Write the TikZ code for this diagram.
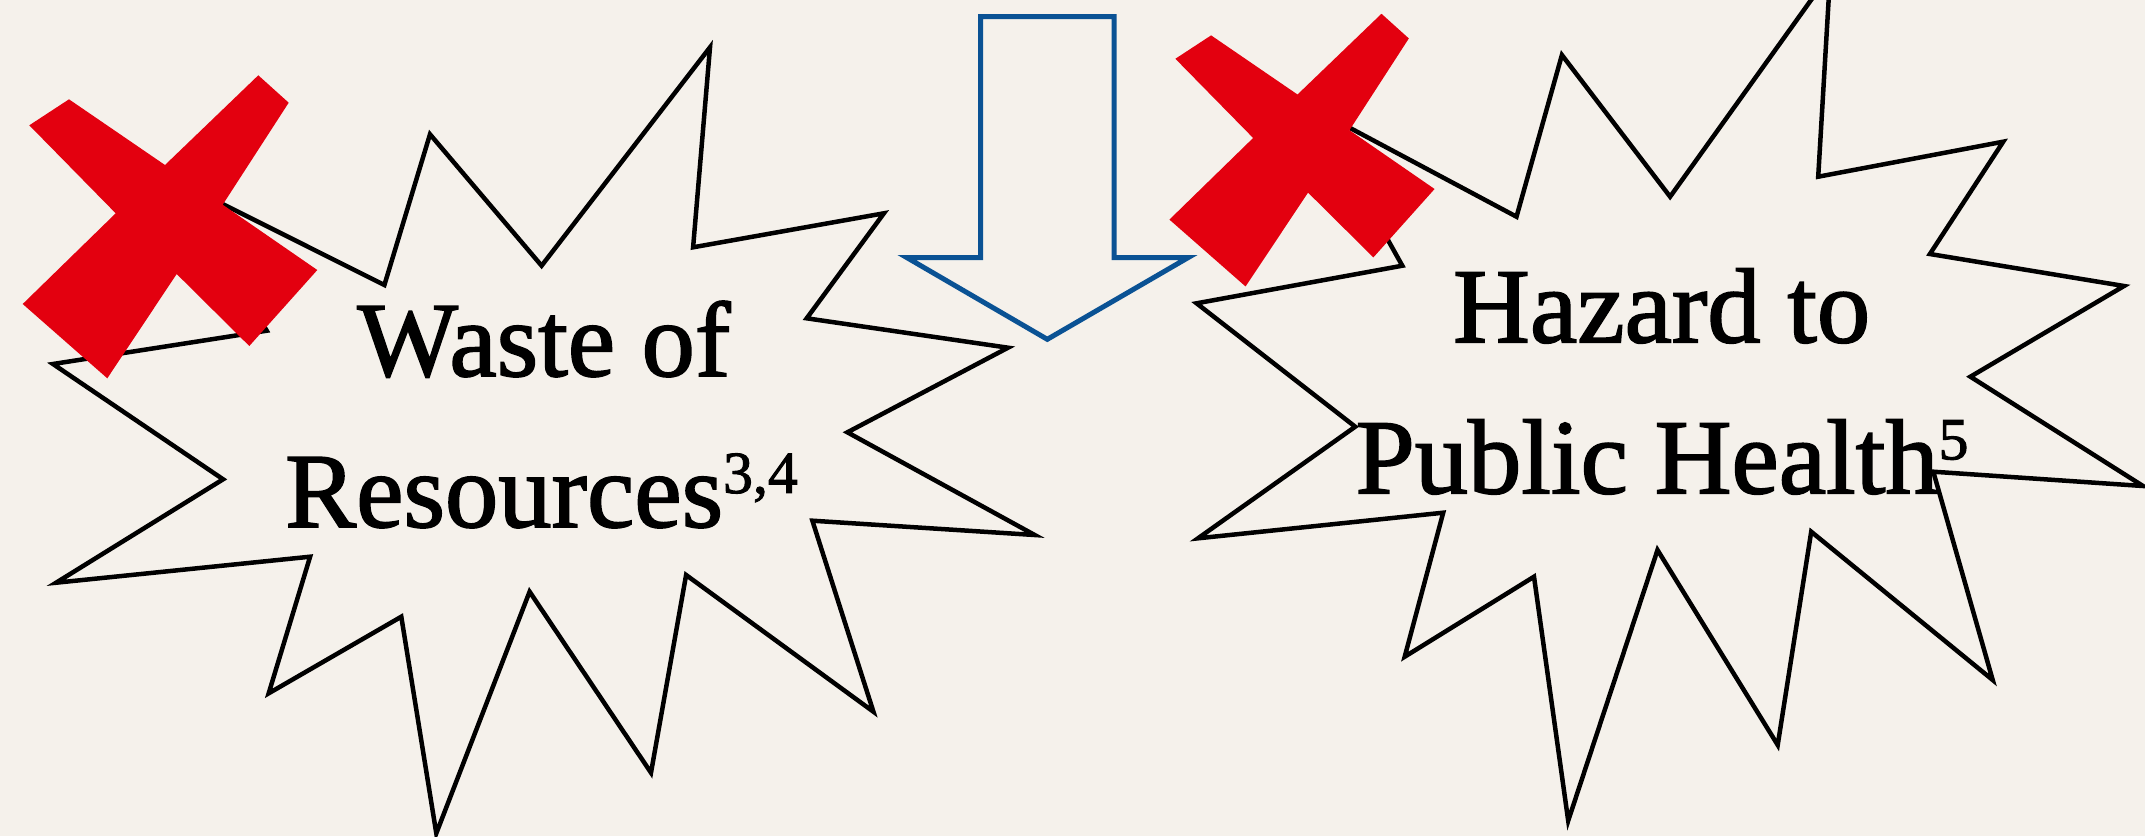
\documentclass[tikz,border=0pt]{standalone}
\usepackage{fontspec}
\setmainfont{Liberation Serif}
\newfontfamily\etikettfont[FakeBold=1.6]{Liberation Serif}
\definecolor{papier}{RGB}{245,241,235}
\definecolor{kreuzrot}{RGB}{227,0,15}
\definecolor{pfeilblau}{RGB}{10,82,148}
\tikzset{%
		zacke/.style={draw,line width=.045cm,fill=papier},
		pfeil/.style={draw=pfeilblau,line width=.05cm,fill=papier},
		etikett/.style={anchor=base,inner sep=0pt,font=\etikettfont\fontsize{30.3}{43}\selectfont}
	}
\newcommand{\hoch}[1]{\raisebox{.34cm}{\fontsize{17}{17}\selectfont #1}}
\newcommand{\kreuz}[3]{
		\begin{scope}[shift={(#1,#2)},scale=#3]
			\fill[kreuzrot] (-140.7,-99.7) -- (-101,-125.7) -- (-5,-60) -- (88.3,-149.7) -- (118.7,-122.3) -- (52.7,-20.3) -- (147.3,45) -- (79.3,121) -- (6.7,49) -- (-62.7,153.3) -- (-147.3,79) -- (-54.3,-11.7) -- cycle ;
		\end{scope}
		}
\begin{document}
\begin{tikzpicture}[x=.01cm,y=-.01cm]
    \fill[papier] (0,0) rectangle (2145,836) ;
    \useasboundingbox (0,0) rectangle (2145,836) ;
    \clip (0,0) rectangle (2145,836) ;
    % linker Stern
    \draw[zacke] (180,182.7) -- (384.4,285) -- (430,134.3) -- (541.6,265.7) -- (710,47.3) -- (693.1,247.3) -- (883.9,213.3) -- (806.7,318.3) -- (1008,347.7) -- (847.4,432.3) -- (1034.7,535) -- (812.4,520.7) -- (873.4,711.7) -- (686.1,575) -- (651,772.7) -- (529.6,591.7) -- (436.3,833.3) -- (401.3,616.7) -- (268.7,693.3) -- (310.1,556.7) -- (56.1,582.7) -- (223.1,479.3) -- (53,364) -- (266.7,330.7) -- cycle ;
    % rechter Stern
    \draw[zacke] (1315,109.3) -- (1516.5,216.7) -- (1561.9,55) -- (1670.1,196.7) -- (1830.2,-26.7) -- (1818.2,176.7) -- (2003.2,141.7) -- (1929.9,254) -- (2124,286) -- (1970.4,376.7) -- (2143,486) -- (1933.3,471.7) -- (1992.7,680) -- (1811.2,531.7) -- (1777.7,745) -- (1657.5,550) -- (1568.2,820.7) -- (1534,576.7) -- (1404.7,656.7) -- (1443.2,512.7) -- (1198,538.3) -- (1355.2,426.7) -- (1196.6,303.3) -- (1402.3,265.7) -- cycle ;
    \kreuz{170}{225}{1}
    \kreuz{1302}{148.5}{.9}
    \draw[pfeil] (980.7,16.7) -- (1114,16.7) -- (1114,257.5) -- (1188.3,257.5) -- (1047.3,339.3) -- (906.7,257.5) -- (980.7,257.5) -- cycle ;
    \node[etikett] (waste) at (543.9,376) {Waste of};
    \node[etikett] (resources) at (541.5,527) {Resources\hoch{3,4}};
    \node[etikett] (hazard) at (1661.6,342.3) {Hazard to};
    \node[etikett] (health) at (1662,493.3) {Public Health\hoch{5}};
\end{tikzpicture}
\end{document}
